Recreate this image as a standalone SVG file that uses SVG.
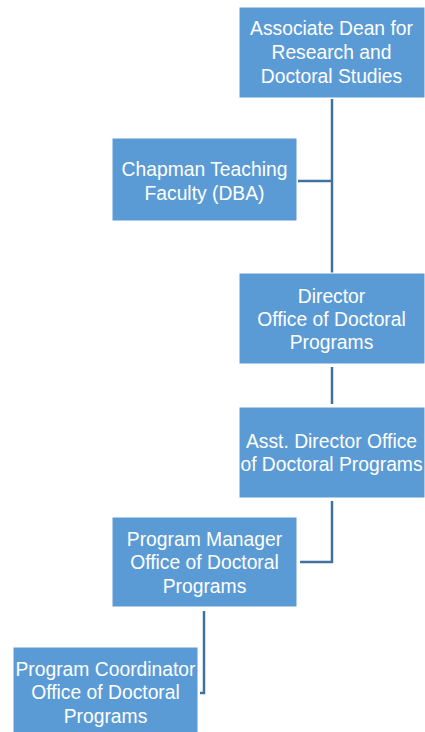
<svg xmlns="http://www.w3.org/2000/svg" width="425" height="732" viewBox="0 0 425 732">
<style>
.box{fill:#5B9BD5;stroke:#FFFFFF;stroke-width:1}
.t{fill:#FFFFFF;font-family:"Liberation Sans",Arial,sans-serif;font-size:19.3px;text-anchor:middle}
.c{fill:none;stroke:#41719C;stroke-width:2.5}
</style>
<rect width="425" height="732" fill="#FFFFFF"/>
<g id="connectors">
<path class="c" d="M332 99 V273"/>
<path class="c" d="M298 181 H332"/>
<path class="c" d="M332 367 V404"/>
<path class="c" d="M332 501 V562 H300"/>
<path class="c" d="M204 611 V693 H200"/>
</g>
<g id="n1"><rect class="box" x="239" y="7" width="186" height="91"/>
<text class="t" x="331.5" y="35">Associate Dean for</text>
<text class="t" x="331.5" y="59">Research and</text>
<text class="t" x="331.5" y="83">Doctoral Studies</text></g>
<g id="n2"><rect class="box" x="112" y="138" width="185" height="83"/>
<text class="t" x="204.5" y="176">Chapman Teaching</text>
<text class="t" x="204.5" y="200">Faculty (DBA)</text></g>
<g id="n3"><rect class="box" x="239" y="273" width="186" height="91"/>
<text class="t" x="331.5" y="303">Director</text>
<text class="t" x="331.5" y="326">Office of Doctoral</text>
<text class="t" x="331.5" y="349">Programs</text></g>
<g id="n4"><rect class="box" x="239" y="407" width="186" height="91"/>
<text class="t" x="331.5" y="448">Asst. Director Office</text>
<text class="t" x="331.5" y="471">of Doctoral Programs</text></g>
<g id="n5"><rect class="box" x="112" y="517" width="185" height="90"/>
<text class="t" x="204.5" y="546">Program Manager</text>
<text class="t" x="204.5" y="569">Office of Doctoral</text>
<text class="t" x="204.5" y="593">Programs</text></g>
<g id="n6"><rect class="box" x="13" y="647" width="185" height="90"/>
<text class="t" x="105.5" y="676">Program Coordinator</text>
<text class="t" x="105.5" y="699">Office of Doctoral</text>
<text class="t" x="105.5" y="723">Programs</text></g>
</svg>
